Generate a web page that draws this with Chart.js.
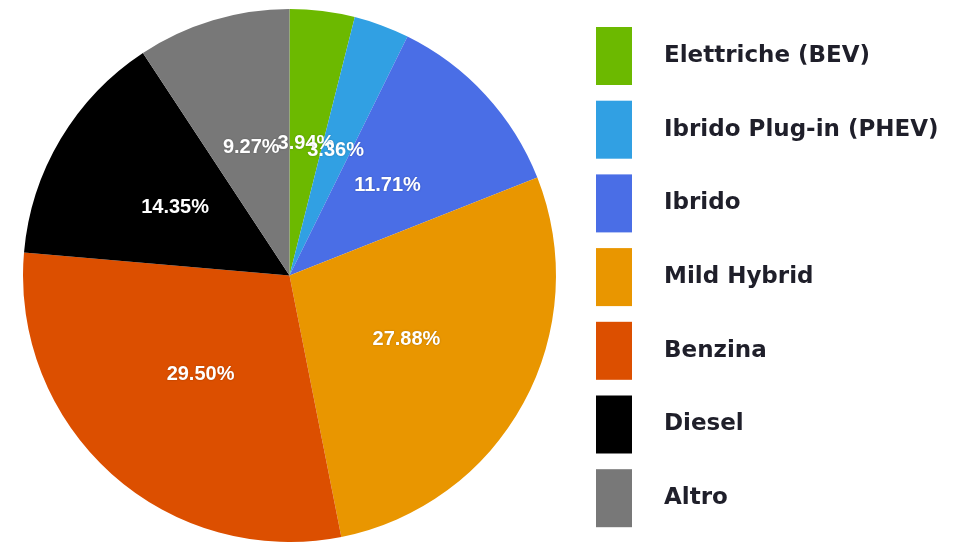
<!DOCTYPE html>
<html>
<head>
<meta charset="utf-8">
<script src="https://cdn.jsdelivr.net/npm/chart.js@4"></script>
<style>
  html, body { margin: 0; padding: 0; background: #fff; }
  #wrap { width: 961px; height: 542px; position: relative; }
</style>
</head>
<body>
<div id="wrap"><canvas id="myChart" width="961" height="542"></canvas></div>
<script>
// Dati (quota di mercato per alimentazione, %)
const categorie = ['Elettriche (BEV)', 'Ibrido Plug-in (PHEV)', 'Ibrido', 'Mild Hybrid', 'Benzina', 'Diesel', 'Altro'];
const quote = [3.94, 3.36, 11.71, 27.88, 29.50, 14.35, 9.27];
const colori = ['#6cb900', '#31a0e3', '#4a6ee6', '#e99600', '#dc4f00', '#000000', '#787878'];

// Etichette percentuali dentro le fette
const etichettePlugin = {
    id: 'etichette',
    afterDatasetsDraw(chart) {
        const ctx = chart.ctx;
        const meta = chart.getDatasetMeta(0);
        ctx.save();
        ctx.font = 'bold 20px "Liberation Sans", Arial, sans-serif';
        ctx.fillStyle = '#ffffff';
        ctx.textAlign = 'center';
        ctx.textBaseline = 'middle';
        ctx.shadowColor = 'rgba(0,0,0,0.25)';
        ctx.shadowBlur = 2;
        meta.data.forEach((arc, i) => {
            const pos = arc.tooltipPosition();
            ctx.fillText(quote[i].toFixed(2) + '%', pos.x, pos.y);
        });
        ctx.restore();
    }
};

// Legenda a destra disegnata a mano
const legendaPlugin = {
    id: 'legenda',
    afterDraw(chart) {
        const ctx = chart.ctx;
        const x0 = 596, y0 = 27, passo = 73.7, w = 36, h = 58;
        ctx.save();
        ctx.font = 'bold 23px "DejaVu Sans", sans-serif';
        ctx.textBaseline = 'middle';
        ctx.textAlign = 'left';
        categorie.forEach((nome, i) => {
            const y = y0 + i * passo;
            ctx.fillStyle = colori[i];
            ctx.fillRect(x0, y, w, h);
            ctx.fillStyle = '#1f1f2a';
            ctx.fillText(nome, 664, y + h / 2);
        });
        ctx.restore();
    }
};

const ctx = document.getElementById('myChart').getContext('2d');
const myChart = new Chart(ctx, {
    type: 'pie',
    data: {
        labels: categorie,
        datasets: [{
            data: quote,
            backgroundColor: colori,
            borderWidth: 0
        }]
    },
    options: {
        responsive: false,
        animation: false,
        layout: {
            padding: { left: 22, right: 404, top: 9, bottom: 0 }
        },
        plugins: {
            legend: { display: false },
            tooltip: { enabled: false }
        }
    },
    plugins: [etichettePlugin, legendaPlugin]
});
</script>
</body>
</html>
